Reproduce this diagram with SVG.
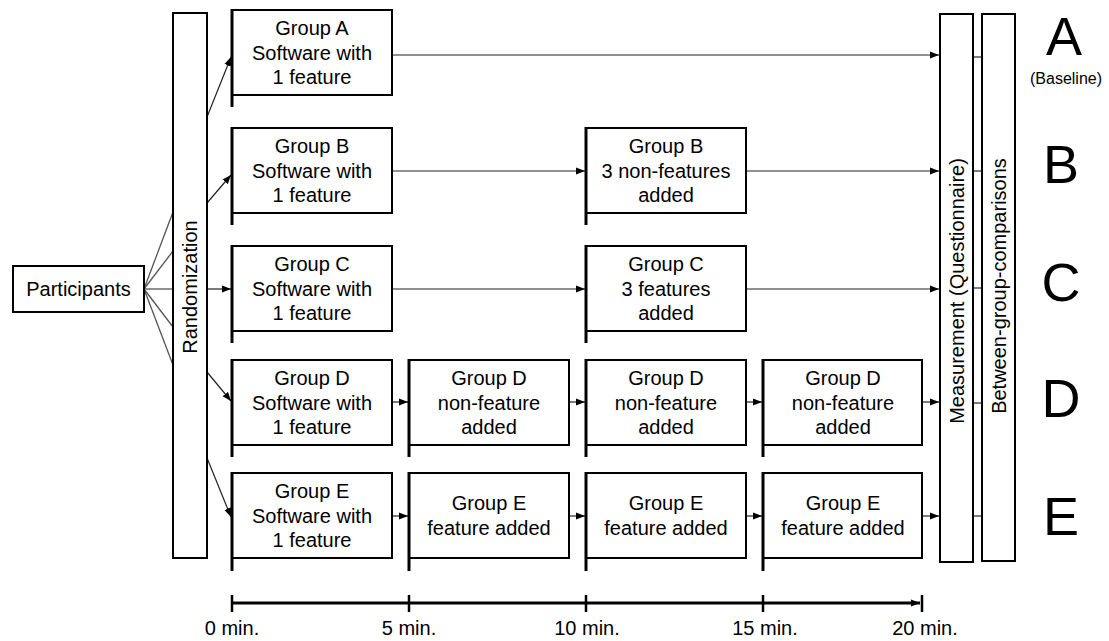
<svg xmlns="http://www.w3.org/2000/svg" width="1109" height="641" viewBox="0 0 1109 641">
  <defs>
    <marker id="arr" markerUnits="userSpaceOnUse" markerWidth="10" markerHeight="8" refX="9" refY="4" orient="auto">
      <path d="M0,0.5 L9,4 L0,7.5 z" fill="#000"/>
    </marker>
    <style>
      text { font-family: "Liberation Sans", Arial, sans-serif; fill: #000; }
      .lbl { font-size: 20px; text-anchor: middle; }
      .box { fill: #fff; stroke: #000; stroke-width: 2; }
      .edge { stroke: #000; stroke-width: 3; }
      .conn { stroke: #222; stroke-width: 1.2; fill: none; }
      .fan { stroke: #555; stroke-width: 1.3; fill: none; }
      .big { font-size: 54px; text-anchor: middle; }
      .tick { stroke: #000; stroke-width: 2.5; }
    </style>
  </defs>
  <rect width="1109" height="641" fill="#fff"/>

  <!-- connectors -->
  <g id="connectors">
    <!-- participants fan out to randomization -->
    <line class="fan" x1="144" y1="289" x2="173" y2="212"/>
    <line class="fan" x1="144" y1="289" x2="173" y2="251"/>
    <line class="fan" x1="144" y1="289" x2="173" y2="289"/>
    <line class="fan" x1="144" y1="289" x2="173" y2="327"/>
    <line class="fan" x1="144" y1="289" x2="173" y2="365"/>
    <!-- randomization to groups -->
    <line class="conn" x1="207" y1="117" x2="231" y2="57" marker-end="url(#arr)"/>
    <line class="conn" x1="207" y1="203" x2="231" y2="175" marker-end="url(#arr)"/>
    <line class="conn" x1="207" y1="289" x2="231" y2="289" marker-end="url(#arr)"/>
    <line class="conn" x1="207" y1="372" x2="231" y2="401" marker-end="url(#arr)"/>
    <line class="conn" x1="207" y1="458" x2="231" y2="517" marker-end="url(#arr)"/>
    <!-- row A -->
    <line class="conn" x1="392" y1="55" x2="939" y2="55" marker-end="url(#arr)"/>
    <!-- row B -->
    <line class="conn" x1="392" y1="171" x2="585" y2="171" marker-end="url(#arr)"/>
    <line class="conn" x1="746" y1="171" x2="939" y2="171" marker-end="url(#arr)"/>
    <!-- row C -->
    <line class="conn" x1="392" y1="289" x2="585" y2="289" marker-end="url(#arr)"/>
    <line class="conn" x1="746" y1="289" x2="939" y2="289" marker-end="url(#arr)"/>
    <!-- row D -->
    <line class="conn" x1="392" y1="402" x2="408" y2="402" marker-end="url(#arr)"/>
    <line class="conn" x1="569" y1="402" x2="585" y2="402" marker-end="url(#arr)"/>
    <line class="conn" x1="746" y1="402" x2="762" y2="402" marker-end="url(#arr)"/>
    <line class="conn" x1="922" y1="402" x2="939" y2="402" marker-end="url(#arr)"/>
    <!-- row E -->
    <line class="conn" x1="392" y1="516" x2="408" y2="516" marker-end="url(#arr)"/>
    <line class="conn" x1="569" y1="516" x2="585" y2="516" marker-end="url(#arr)"/>
    <line class="conn" x1="746" y1="516" x2="762" y2="516" marker-end="url(#arr)"/>
    <line class="conn" x1="922" y1="516" x2="939" y2="516" marker-end="url(#arr)"/>
    <!-- measurement to comparisons -->
    <line class="conn" x1="973" y1="57" x2="982" y2="57"/>
    <line class="conn" x1="973" y1="171" x2="982" y2="171"/>
    <line class="conn" x1="973" y1="288" x2="982" y2="288"/>
    <line class="conn" x1="973" y1="403" x2="982" y2="403"/>
    <line class="conn" x1="973" y1="516" x2="982" y2="516"/>
  </g>

  <g id="participants">
    <rect class="box" x="13" y="266" width="131" height="46"/>
    <text class="lbl" x="78.5" y="296">Participants</text>
  </g>

  <g id="randomization">
    <rect class="box" x="173" y="13" width="34" height="545"/>
    <text class="lbl" transform="translate(197,287) rotate(-90)">Randomization</text>
  </g>

  <!-- row A -->
  <g id="groupA1">
    <rect class="box" x="232" y="10" width="160" height="85"/>
    <line class="edge" x1="232" y1="9" x2="232" y2="107"/>
    <text class="lbl" x="312" y="35">Group A</text>
    <text class="lbl" x="312" y="60">Software with</text>
    <text class="lbl" x="312" y="84">1 feature</text>
  </g>

  <!-- row B -->
  <g id="groupB1">
    <rect class="box" x="232" y="128" width="160" height="85"/>
    <line class="edge" x1="232" y1="127" x2="232" y2="225"/>
    <text class="lbl" x="312" y="153">Group B</text>
    <text class="lbl" x="312" y="178">Software with</text>
    <text class="lbl" x="312" y="202">1 feature</text>
  </g>
  <g id="groupB3">
    <rect class="box" x="586" y="128" width="160" height="85"/>
    <line class="edge" x1="586" y1="127" x2="586" y2="225"/>
    <text class="lbl" x="666" y="153">Group B</text>
    <text class="lbl" x="666" y="178">3 non-features</text>
    <text class="lbl" x="666" y="202">added</text>
  </g>

  <!-- row C -->
  <g id="groupC1">
    <rect class="box" x="232" y="246" width="160" height="85"/>
    <line class="edge" x1="232" y1="245" x2="232" y2="343"/>
    <text class="lbl" x="312" y="271">Group C</text>
    <text class="lbl" x="312" y="296">Software with</text>
    <text class="lbl" x="312" y="320">1 feature</text>
  </g>
  <g id="groupC3">
    <rect class="box" x="586" y="246" width="160" height="85"/>
    <line class="edge" x1="586" y1="245" x2="586" y2="343"/>
    <text class="lbl" x="666" y="271">Group C</text>
    <text class="lbl" x="666" y="296">3 features</text>
    <text class="lbl" x="666" y="320">added</text>
  </g>

  <!-- row D -->
  <g id="groupD1">
    <rect class="box" x="232" y="360" width="160" height="85"/>
    <line class="edge" x1="232" y1="359" x2="232" y2="457"/>
    <text class="lbl" x="312" y="385">Group D</text>
    <text class="lbl" x="312" y="410">Software with</text>
    <text class="lbl" x="312" y="434">1 feature</text>
  </g>
  <g id="groupD2">
    <rect class="box" x="409" y="360" width="160" height="85"/>
    <line class="edge" x1="409" y1="359" x2="409" y2="457"/>
    <text class="lbl" x="489" y="385">Group D</text>
    <text class="lbl" x="489" y="410">non-feature</text>
    <text class="lbl" x="489" y="434">added</text>
  </g>
  <g id="groupD3">
    <rect class="box" x="586" y="360" width="160" height="85"/>
    <line class="edge" x1="586" y1="359" x2="586" y2="457"/>
    <text class="lbl" x="666" y="385">Group D</text>
    <text class="lbl" x="666" y="410">non-feature</text>
    <text class="lbl" x="666" y="434">added</text>
  </g>
  <g id="groupD4">
    <rect class="box" x="763" y="360" width="159" height="85"/>
    <line class="edge" x1="763" y1="359" x2="763" y2="457"/>
    <text class="lbl" x="843" y="385">Group D</text>
    <text class="lbl" x="843" y="410">non-feature</text>
    <text class="lbl" x="843" y="434">added</text>
  </g>

  <!-- row E -->
  <g id="groupE1">
    <rect class="box" x="232" y="473" width="160" height="85"/>
    <line class="edge" x1="232" y1="472" x2="232" y2="571"/>
    <text class="lbl" x="312" y="498">Group E</text>
    <text class="lbl" x="312" y="523">Software with</text>
    <text class="lbl" x="312" y="547">1 feature</text>
  </g>
  <g id="groupE2">
    <rect class="box" x="409" y="473" width="160" height="85"/>
    <line class="edge" x1="409" y1="472" x2="409" y2="571"/>
    <text class="lbl" x="489" y="510">Group E</text>
    <text class="lbl" x="489" y="535">feature added</text>
  </g>
  <g id="groupE3">
    <rect class="box" x="586" y="473" width="160" height="85"/>
    <line class="edge" x1="586" y1="472" x2="586" y2="571"/>
    <text class="lbl" x="666" y="510">Group E</text>
    <text class="lbl" x="666" y="535">feature added</text>
  </g>
  <g id="groupE4">
    <rect class="box" x="763" y="473" width="159" height="85"/>
    <line class="edge" x1="763" y1="472" x2="763" y2="571"/>
    <text class="lbl" x="843" y="510">Group E</text>
    <text class="lbl" x="843" y="535">feature added</text>
  </g>

  <g id="measurement">
    <rect class="box" x="940" y="14" width="33" height="548"/>
    <text class="lbl" transform="translate(964,291) rotate(-90)">Measurement (Questionnaire)</text>
  </g>

  <g id="comparisons">
    <rect class="box" x="982" y="14" width="33" height="547"/>
    <text class="lbl" transform="translate(1006,286) rotate(-90)">Between-group-comparisons</text>
  </g>

  <!-- group letters -->
  <g id="letters">
    <text class="big" x="1064" y="55">A</text>
    <text style="font-size:16px;text-anchor:middle" x="1066" y="84">(Baseline)</text>
    <text class="big" x="1061" y="183">B</text>
    <text class="big" x="1061" y="301">C</text>
    <text class="big" x="1061" y="417">D</text>
    <text class="big" x="1061" y="535">E</text>
  </g>

  <!-- time axis -->
  <g id="timeline">
    <line x1="232" y1="603" x2="920" y2="603" stroke="#000" stroke-width="3" marker-end="url(#arr)"/>
    <line class="tick" x1="232" y1="595" x2="232" y2="612"/>
    <line class="tick" x1="409" y1="595" x2="409" y2="612"/>
    <line class="tick" x1="586" y1="595" x2="586" y2="612"/>
    <line class="tick" x1="763" y1="595" x2="763" y2="612"/>
    <line class="tick" x1="922" y1="595" x2="922" y2="612"/>
    <text class="lbl" x="232" y="635">0 min.</text>
    <text class="lbl" x="409" y="635">5 min.</text>
    <text class="lbl" x="587" y="635">10 min.</text>
    <text class="lbl" x="765" y="635">15 min.</text>
    <text class="lbl" x="925" y="635">20 min.</text>
  </g>
</svg>
